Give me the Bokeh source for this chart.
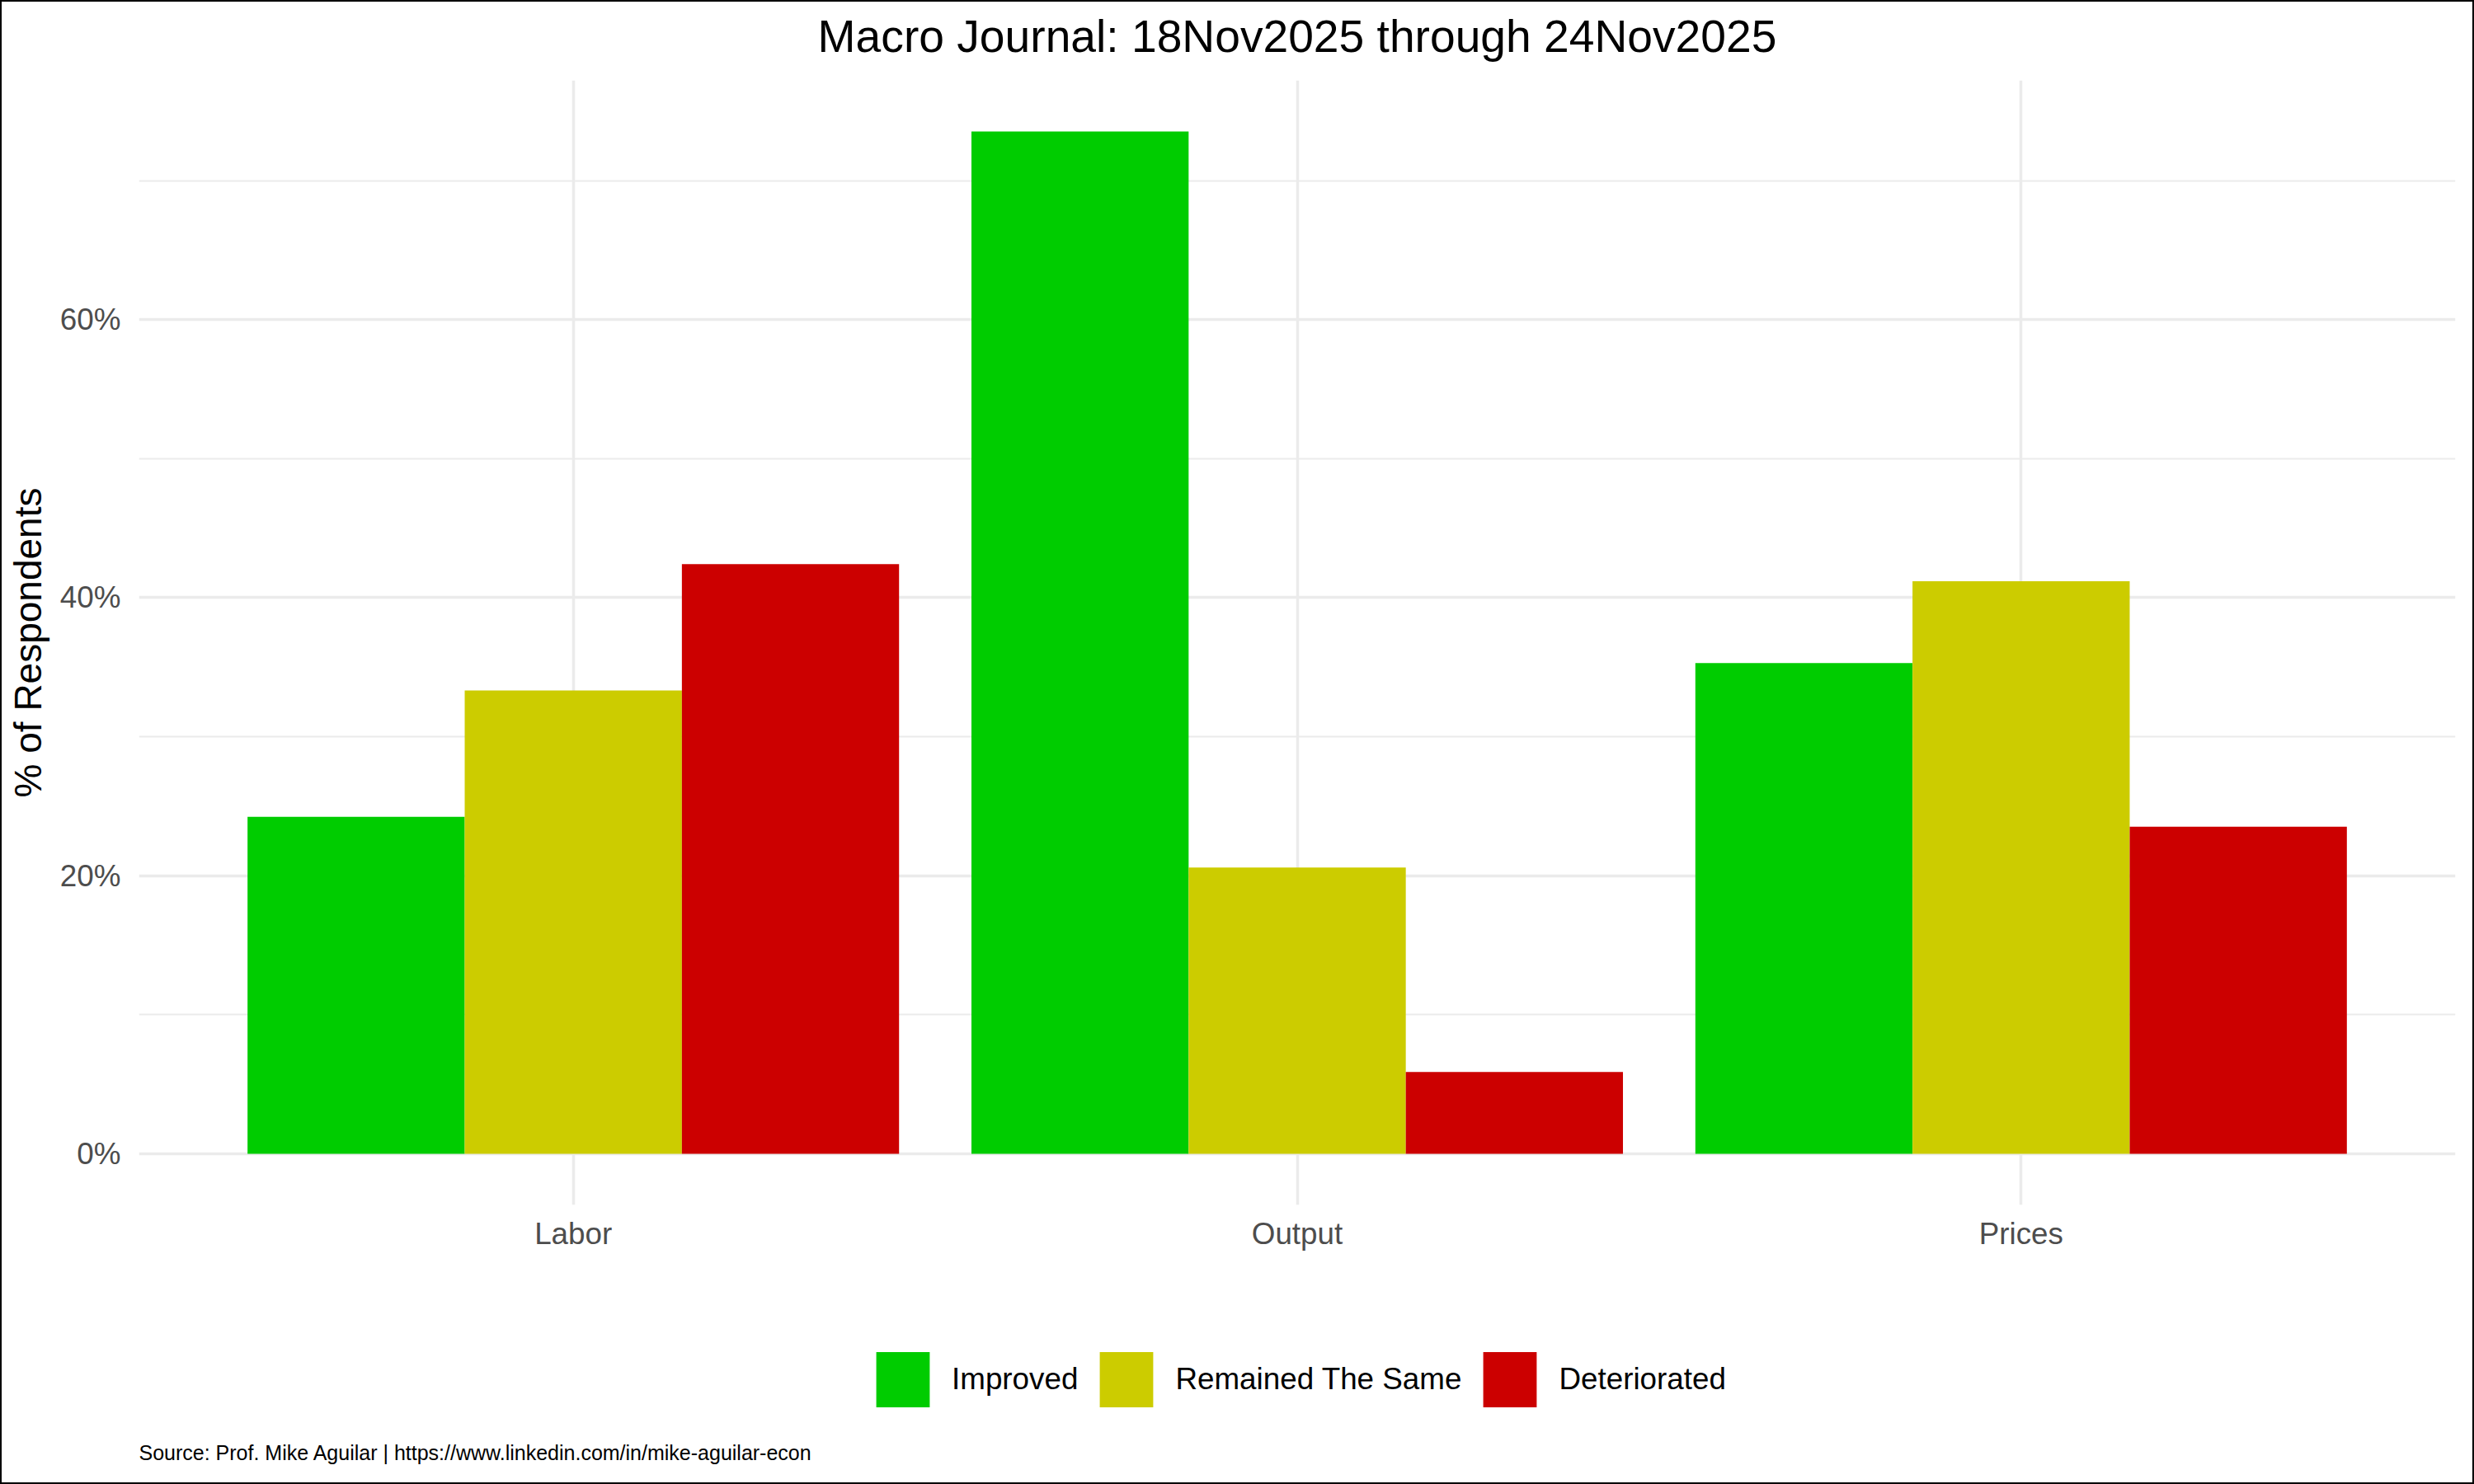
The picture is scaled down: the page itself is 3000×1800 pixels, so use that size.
from bokeh.plotting import figure
from bokeh.layouts import column
from bokeh.models import (ColumnDataSource, Range1d, FixedTicker, PrintfTickFormatter,
                          Legend, LegendItem, Label, GlobalInlineStyleSheet)
from bokeh.transform import dodge
from bokeh.embed import file_html
from bokeh.resources import INLINE

# ---------------- data ----------------
categories = ["Labor", "Output", "Prices"]
series = ["Improved", "Remained The Same", "Deteriorated"]
improved = [24.24, 73.53, 35.29]
remained = [33.33, 20.59, 41.18]
deteriorated = [42.42, 5.88, 23.53]
colors = ["#00CC00", "#CCCC00", "#CC0000"]
y_ticks = [0, 20, 40, 60]
y_minor = [10, 30, 50, 70]
title_text = "Macro Journal: 18Nov2025 through 24Nov2025"
y_label = "% of Respondents"
caption_text = "Source: Prof. Mike Aguilar  | https://www.linkedin.com/in/mike-aguilar-econ"

# ---------------- layout constants ----------------
FONT = "Liberation Sans"
W, H = 3000, 1800
FL, FR = 168, 23          # left / right border around the plotting frame
HT = 97                   # title strip height
HM = 1443                 # main chart height (frame + x-axis labels)
FB = 79                   # space under the frame for the x-axis labels
HF = H - HT - HM          # legend / caption strip height
GRID = "#EBEBEB"

n = len(categories)
xpos = list(range(1, n + 1))
src = ColumnDataSource(dict(x=xpos, cat=categories, Improved=improved,
                            Remained=remained, Deteriorated=deteriorated))

ymax = max(improved + remained + deteriorated)
pad = 0.05 * ymax


def strip(height):
    f = figure(width=W, height=height, output_backend="svg", toolbar_location=None,
               x_range=Range1d(0.4, n + 0.6), y_range=Range1d(-pad, ymax + pad),
               x_axis_type=None, y_axis_type=None, title=None,
               min_border_left=FL, min_border_right=FR, min_border_top=0,
               min_border_bottom=0)
    f.background_fill_color = "white"
    f.border_fill_color = "white"
    f.outline_line_color = None
    return f


# ---------------- title strip ----------------
head = strip(HT)
head.add_layout(Label(x=(W - FL - FR) / 2, y=54, x_units="screen",
                      y_units="screen", text=title_text, text_font=FONT,
                      text_font_size="55.2px", text_color="black",
                      text_align="center", text_baseline="alphabetic"))

# ---------------- main chart ----------------
p = figure(width=W, height=HM, output_backend="svg", toolbar_location=None,
           title=None,
           x_range=Range1d(0.4, n + 0.6), y_range=Range1d(-pad, ymax + pad),
           min_border_left=FL, min_border_right=FR, min_border_top=0,
           min_border_bottom=FB)
p.background_fill_color = "white"
p.border_fill_color = "white"
p.outline_line_color = None

bar_w = 0.3
keys = ["Improved", "Remained", "Deteriorated"]
offsets = [-bar_w, 0.0, bar_w]
for key, off, col in zip(keys, offsets, colors):
    p.vbar(x=dodge("x", off), top=key, bottom=0, width=bar_w, source=src,
           fill_color=col, line_color=None)

# axes
p.xaxis.ticker = FixedTicker(ticks=xpos, minor_ticks=[])
p.xaxis.major_label_overrides = {i: c for i, c in zip(xpos, categories)}
p.yaxis.ticker = FixedTicker(ticks=y_ticks, minor_ticks=y_minor)
p.yaxis.formatter = PrintfTickFormatter(format="%d%%")

for ax in (p.xaxis[0], p.yaxis[0]):
    ax.axis_line_color = None
    ax.major_tick_line_color = None
    ax.minor_tick_line_color = None
    ax.major_tick_out = 0
    ax.major_tick_in = 0
    ax.minor_tick_out = 0
    ax.minor_tick_in = 0
    ax.major_label_text_font = FONT
    ax.major_label_text_font_size = "36.8px"
    ax.major_label_text_color = "#4D4D4D"

p.yaxis.major_label_standoff = 22
p.xaxis.major_label_standoff = 14
p.yaxis.axis_label = y_label
p.yaxis.axis_label_text_font = FONT
p.yaxis.axis_label_text_font_size = "46px"
p.yaxis.axis_label_text_font_style = "normal"
p.yaxis.axis_label_text_color = "black"
p.yaxis.axis_label_standoff = 10

# grid
p.xgrid.grid_line_color = GRID
p.xgrid.grid_line_width = 3.5
p.ygrid.grid_line_color = GRID
p.ygrid.grid_line_width = 3.5
p.ygrid.minor_grid_line_color = GRID
p.ygrid.minor_grid_line_width = 1.8

# ---------------- footer strip: legend + caption ----------------
foot = strip(HF)

# hidden twins of the bar renderers, used only for the legend swatches
legend_renderers = []
for key, off, col in zip(keys, offsets, colors):
    r = foot.vbar(x=dodge("x", off), top=key, bottom=0, width=bar_w, source=src,
                  fill_color=col, line_color=None, visible=False)
    legend_renderers.append(r)

items = [LegendItem(label=s, renderers=[r]) for s, r in zip(series, legend_renderers)]
legend = Legend(items=items, orientation="horizontal", location=(1054 - FL, 85),
                glyph_width=81, glyph_height=84, label_standoff=19, spacing=18,
                padding=0, margin=0, border_line_color=None,
                background_fill_alpha=0, inactive_fill_alpha=0,
                label_text_font=FONT,
                label_text_font_size="36.8px", label_text_color="black",
                label_height=84)
foot.add_layout(legend, "center")

foot.add_layout(Label(x=0, y=39, x_units="screen", y_units="screen",
                      text=caption_text, text_font=FONT, text_font_size="25px",
                      text_color="black", text_baseline="alphabetic",
                      text_align="left"))

layout = column(head, p, foot, spacing=0)
layout.stylesheets = [GlobalInlineStyleSheet(css=(
    "body::after { content: ''; position: fixed; left: 0; top: 0; right: 0; bottom: 0;"
    " border: 2px solid black; box-sizing: border-box; pointer-events: none;"
    " z-index: 9999; }"))]

open("out.html", "w").write(file_html(layout, INLINE))
